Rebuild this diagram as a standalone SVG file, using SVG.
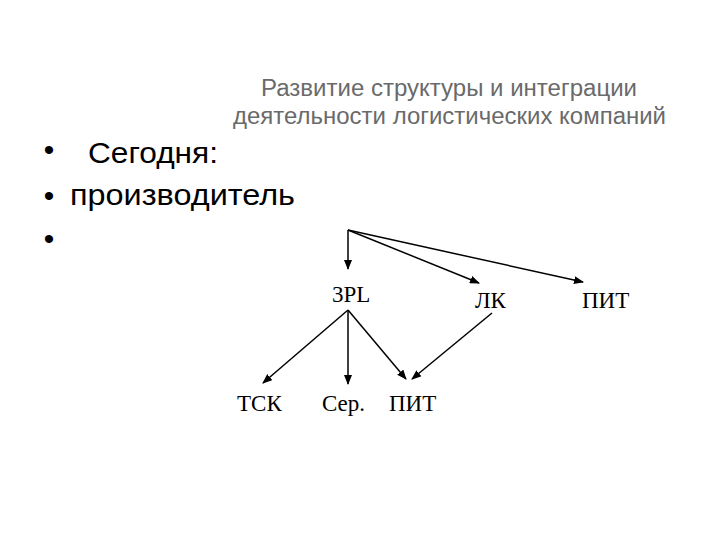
<svg xmlns="http://www.w3.org/2000/svg" width="720" height="540" viewBox="0 0 720 540">
<style>
.title{font-family:"Liberation Sans",Arial,sans-serif;font-size:23px;fill:#6a6a6a}
.bul{font-family:"Liberation Sans",Arial,sans-serif;font-size:30px;fill:#000}
.dot{font-family:"Liberation Sans",Arial,sans-serif;font-size:30px;fill:#000;text-anchor:middle}
.lbl{font-family:"Liberation Serif","Times New Roman",serif;font-size:23px;fill:#000}
.c{stroke:#000;stroke-width:1.5;fill:none;marker-end:url(#ah)}
</style>
<defs>
<marker id="ah" markerWidth="10" markerHeight="8" refX="9" refY="4" orient="auto" markerUnits="userSpaceOnUse">
<path d="M0,0 L10,4 L0,8 Z" fill="#000"/>
</marker>
</defs>
<rect width="720" height="540" fill="#fff"/>
<g id="title">
<text class="title" x="261" y="96" textLength="376" lengthAdjust="spacingAndGlyphs">Развитие структуры и интеграции</text>
<text class="title" x="233" y="124" textLength="433" lengthAdjust="spacingAndGlyphs">деятельности логистических компаний</text>
</g>
<g id="bullets">
<text class="dot" x="49" y="160">•</text>
<text class="bul" x="88" y="163" textLength="130" lengthAdjust="spacingAndGlyphs">Сегодня:</text>
<text class="dot" x="49" y="206">•</text>
<text class="bul" x="70" y="205" textLength="225" lengthAdjust="spacingAndGlyphs">производитель</text>
<text class="dot" x="49" y="249">•</text>
</g>
<g id="connectors">
<line class="c" x1="348" y1="230" x2="348" y2="269"/>
<line class="c" x1="348" y1="230" x2="479" y2="283"/>
<line class="c" x1="348" y1="230" x2="583" y2="282"/>
<line class="c" x1="348" y1="310" x2="263" y2="383"/>
<line class="c" x1="348" y1="310" x2="348" y2="384"/>
<line class="c" x1="348" y1="310" x2="406" y2="379"/>
<line class="c" x1="492" y1="313" x2="412" y2="379"/>
</g>
<g id="n3pl"><text class="lbl" x="332" y="302">3PL</text></g>
<g id="nlk"><text class="lbl" x="475" y="308">ЛК</text></g>
<g id="npit1"><text class="lbl" x="582" y="308">ПИТ</text></g>
<g id="ntsk"><text class="lbl" x="237" y="411">ТСК</text></g>
<g id="nser"><text class="lbl" x="322" y="411">Сер.</text></g>
<g id="npit2"><text class="lbl" x="389" y="411">ПИТ</text></g>
</svg>
